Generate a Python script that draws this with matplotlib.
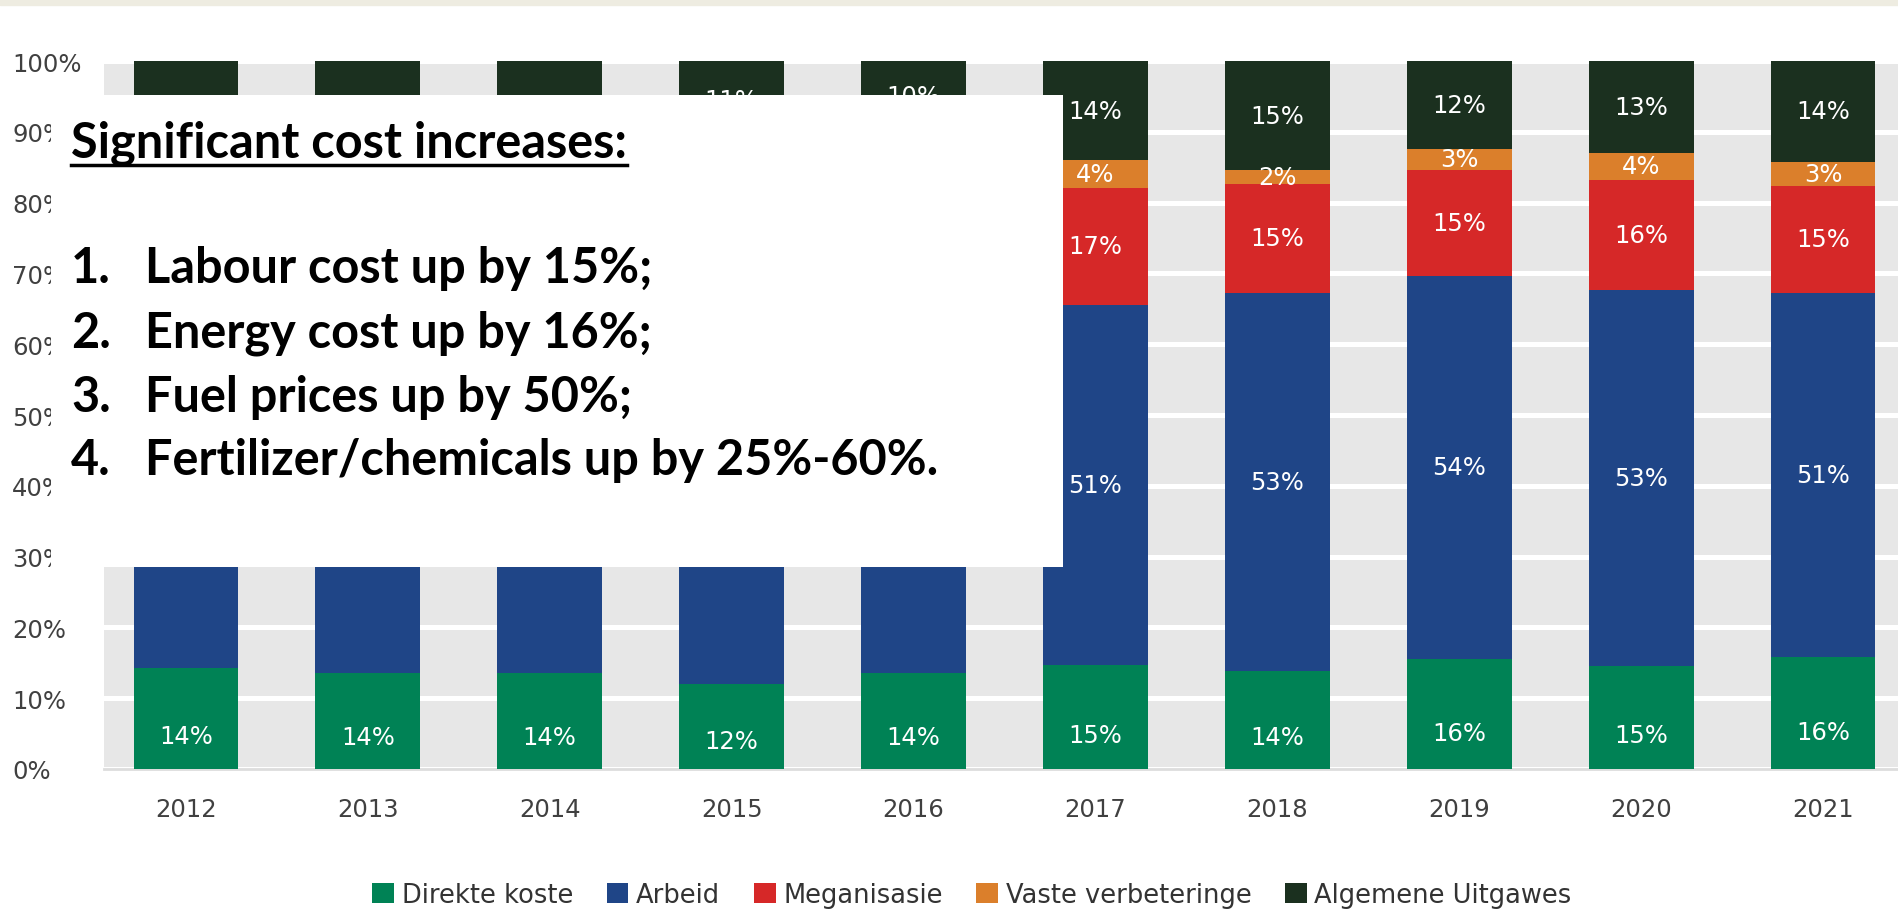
# Cost breakdown per year, 100% stacked bars with a note box on top
from matplotlib import pyplot as plt
from matplotlib.patches import Rectangle
from matplotlib.lines import Line2D
import numpy as np

years = ["2012", "2013", "2014", "2015", "2016", "2017", "2018", "2019", "2020", "2021"]

# shares per year in %
direkte = [14.3, 13.5, 13.5, 12.0, 13.5, 14.7, 13.9, 15.6, 14.6, 15.8]
arbeid = [48.0, 49.5, 50.5, 52.0, 53.5, 50.8, 53.4, 54.0, 53.0, 51.4]
meganisasie = [17.5, 17.0, 17.0, 19.0, 18.0, 16.6, 15.3, 15.0, 15.6, 15.2]
vaste = [4.2, 5.0, 5.0, 6.0, 5.0, 3.9, 2.0, 3.0, 3.8, 3.4]
algemeen = [16.0, 15.0, 14.0, 11.0, 10.0, 14.0, 15.4, 12.4, 13.0, 14.2]

series_names = ["Direkte koste", "Arbeid", "Meganisasie", "Vaste verbeteringe", "Algemene Uitgawes"]
colors = ["#008255", "#1f4587", "#d62828", "#db7f2b", "#1b301f"]

note_title = "Significant cost increases:"
note_items = [
    "Labour cost up by 15%;",
    "Energy cost up by 16%;",
    "Fuel prices up by 50%;",
    "Fertilizer/chemicals up by 25%-60%.",
]

W, H = 1898, 912
fig = plt.figure(figsize=(W / 100, H / 100), dpi=100)

# note box in pixels (left, top, right, bottom)
box = (51, 96, 1063, 568)

# axes placed in pixel terms (right edge runs past the figure like the original)
ax_l, ax_r, ax_b, ax_t = 104, 1905, 770, 62
ax = fig.add_axes([ax_l / W, 1 - ax_b / H, (ax_r - ax_l) / W, (ax_b - ax_t) / H])
ax.set_facecolor("#e7e7e7")
ax.set_xlim(-0.45, 9.45)
ax.set_ylim(0, 100)

x = np.arange(len(years))
data = [direkte, arbeid, meganisasie, vaste, algemeen]
bottom = np.zeros(len(years))
for vals, name, col in zip(data, series_names, colors):
    vals = np.array(vals)
    ax.bar(x, vals, 0.575, bottom=bottom, color=col, label=name, zorder=3)
    for i in range(len(years)):
        if name == "Direkte koste":
            ypos = bottom[i] + vals[i] * 0.33
        else:
            ypos = bottom[i] + vals[i] / 2
        # labels sitting under the note box are not visible, skip them
        px, py = ax.transData.transform((x[i], ypos))
        py = H - py
        if box[0] < px < box[2] and box[1] + 8 < py < box[3]:
            continue
        ax.text(x[i], ypos, f"{vals[i]:.0f}%", ha="center", va="center",
                color="white", fontsize=17.5, zorder=4)
    bottom += vals

ax.set_yticks(range(0, 101, 10))
ax.set_yticklabels([f"{v}%" for v in range(0, 101, 10)])
ax.set_xticks(x)
ax.set_xticklabels(years)
ax.yaxis.grid(True, color="white", linewidth=3.6, zorder=1)
ax.set_axisbelow(True)
for s in ["top", "right", "left"]:
    ax.spines[s].set_visible(False)
ax.spines["bottom"].set_color("#dddddd")
ax.spines["bottom"].set_linewidth(2)
ax.tick_params(axis="both", length=0, labelsize=17.5, colors="#404040")
ax.tick_params(axis="x", pad=20)
ax.tick_params(axis="y", pad=66)
for lab in ax.get_yticklabels():
    lab.set_horizontalalignment("left")

# legend at the bottom
ax.legend(loc="center", bbox_to_anchor=(972 / W, 1 - 896 / H), bbox_transform=fig.transFigure,
          ncol=5, frameon=False, fontsize=18.5, handlelength=0.85, handleheight=0.85,
          handletextpad=0.3, columnspacing=1.3, labelcolor="#333333")

# beige strip on top
fig.patches.append(Rectangle((0, 1 - 6 / H), 1, 6 / H, transform=fig.transFigure,
                             color="#eeece1", zorder=5))

# white note box covering part of the chart
fig.patches.append(Rectangle((box[0] / W, 1 - box[3] / H), (box[2] - box[0]) / W,
                             (box[3] - box[1]) / H, transform=fig.transFigure,
                             facecolor="white", edgecolor="none", zorder=5))

font = "Lato"
fs = 35
title = fig.text(71 / W, 1 - 157 / H, note_title, fontsize=fs, fontweight="bold",
                 family=font, va="baseline", zorder=6)
baselines = [283, 348, 412, 475]
for n, (item, yb) in enumerate(zip(note_items, baselines), start=1):
    fig.text(71 / W, 1 - yb / H, f"{n}.", fontsize=fs, fontweight="bold",
             family=font, va="baseline", zorder=6)
    fig.text(145 / W, 1 - yb / H, item, fontsize=fs, fontweight="bold",
             family=font, va="baseline", zorder=6)

# underline the title
fig.canvas.draw()
bb = title.get_window_extent()
uy = 1 - 166 / H
fig.lines.append(Line2D([bb.x0 / W, bb.x1 / W], [uy, uy], transform=fig.transFigure,
                        color="black", linewidth=2.5, zorder=6))

fig.savefig("out.png", dpi=100)
